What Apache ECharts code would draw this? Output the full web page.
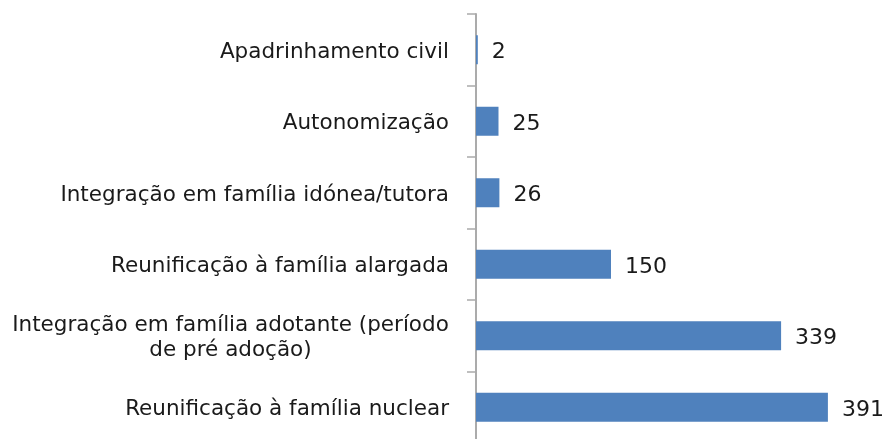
<!DOCTYPE html>
<html>
<head>
<meta charset="utf-8">
<script src="https://cdn.jsdelivr.net/npm/echarts@6/dist/echarts.min.js"></script>
<style>
  html, body { margin: 0; padding: 0; background: #fff; }
  #chart { width: 885px; height: 439px; }
</style>
</head>
<body>
<div id="chart"></div>
<script>
// Categories listed bottom to top (ECharts category y-axis order)
const categories = [
  'Reunificação à família nuclear',
  'Integração em família adotante (período\nde pré adoção)',
  'Reunificação à família alargada',
  'Integração em família idónea/tutora',
  'Autonomização',
  'Apadrinhamento civil'
];
const values = [391, 339, 150, 26, 25, 2];

const FONT = 'DejaVu Sans';
const TEXT_COLOR = '#1a1a1a';
const LABEL_SIZE = 21.5;

const chart = echarts.init(document.getElementById('chart'));
chart.setOption({
  animation: false,
  // plot area runs slightly past the bottom edge of the canvas
  grid: { left: 476, top: 14, width: 405, height: 429, containLabel: false, outerBoundsMode: 'none' },
  xAxis: {
    type: 'value',
    min: 0,
    max: 450,
    show: false
  },
  yAxis: {
    type: 'category',
    data: categories,
    axisLine: { show: true, lineStyle: { color: '#ababab', width: 2 } },
    axisTick: { show: true, length: 9, lineStyle: { color: '#ababab', width: 1.5 } },
    axisLabel: {
      margin: 27,
      padding: [5, 0, 0, 0],
      fontFamily: FONT,
      fontSize: LABEL_SIZE,
      color: TEXT_COLOR,
      lineHeight: 25,
      // centre each line of a wrapped category name within the label block
      formatter: function (v) {
        if (v.indexOf('\n') >= 0) {
          return v.split('\n').map(function (s) { return '{c|' + s + '}'; }).join('\n');
        }
        return v;
      },
      rich: {
        c: { width: 437, align: 'center', fontFamily: FONT, fontSize: LABEL_SIZE, color: TEXT_COLOR, lineHeight: 25 }
      }
    }
  },
  series: [{
    type: 'bar',
    data: values,
    barWidth: 29,
    itemStyle: { color: '#4F81BD' },
    label: {
      show: true,
      position: 'right',
      distance: 14,
      offset: [0, 3],
      fontFamily: FONT,
      fontSize: 22,
      color: TEXT_COLOR
    }
  }]
});
</script>
</body>
</html>
